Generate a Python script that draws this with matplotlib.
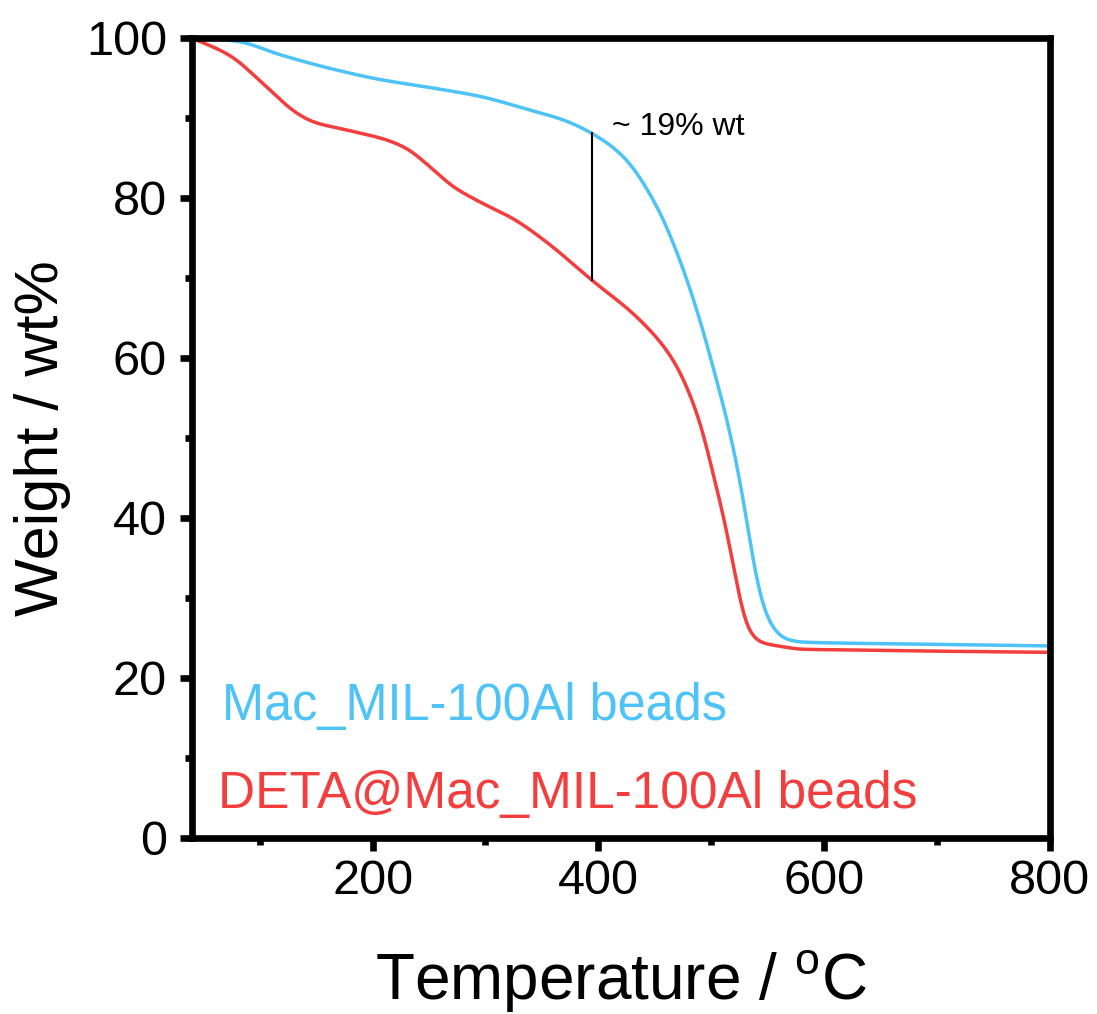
import matplotlib
matplotlib.use("Agg")
import matplotlib.pyplot as plt
import numpy as np

plt.rcParams['font.family'] = ['Liberation Sans', 'DejaVu Sans']

# Mac_MIL-100Al beads (blue)
blue_T = [40, 79.6, 118, 162, 206.5, 250.8, 295, 339, 369, 394, 422, 451.6, 472.2,
          490, 504.7, 513.6, 525.4, 532.8, 540.2, 549, 563.8, 578.5, 600, 700, 800]
blue_W = [100, 99.6, 97.9, 96.2, 94.8, 93.8, 92.7, 91.0, 89.75, 88.1, 85.2, 79.0, 72.25,
          64.75, 57.25, 52.5, 44.75, 38.5, 32.25, 27.7, 25.0, 24.5, 24.4, 24.2, 24.0]

# DETA@Mac_MIL-100Al beads (red)
red_T = [40, 73.7, 103, 132.7, 147.4, 177, 212.5, 230, 250.8, 271.5, 295, 324.6, 354,
         394, 436.8, 466.3, 490, 501.7, 513.6, 522.4, 531.3, 543, 563.8, 578.5,
         622.8, 700, 800]
red_W = [100, 97.8, 94.3, 90.6, 89.5, 88.5, 87.25, 86.2, 83.9, 81.4, 79.5, 77.4, 74.5,
         69.75, 64.75, 59.75, 52.0, 45.5, 38.5, 32.0, 26.4, 24.5, 23.9, 23.6,
         23.5, 23.35, 23.2]

annot_T = 394
annot_top = 88.1
annot_bot = 69.75

x_ticks = [200, 400, 600, 800]
y_ticks = [0, 20, 40, 60, 80, 100]

blue = '#4dc3f7'
red = '#f43e3e'

fig = plt.figure(figsize=(10.97, 10.14), dpi=100)
ax = fig.add_axes([0.175, 0.1736, 0.782, 0.789])

def smooth(xs, ys, win=9.0):
    xs = np.asarray(xs, float); ys = np.asarray(ys, float)
    xx = np.linspace(xs[0], xs[-1], 3041)
    h = np.diff(xs); d = np.diff(ys) / h
    m = np.zeros_like(ys)
    for k in range(1, len(xs) - 1):
        if d[k-1] * d[k] <= 0:
            m[k] = 0
        else:
            w1 = 2*h[k] + h[k-1]; w2 = h[k] + 2*h[k-1]
            m[k] = (w1 + w2) / (w1/d[k-1] + w2/d[k])
    m[0] = d[0]; m[-1] = d[-1]
    idx = np.clip(np.searchsorted(xs, xx) - 1, 0, len(xs) - 2)
    t = (xx - xs[idx]) / h[idx]
    h00 = 2*t**3 - 3*t**2 + 1; h10 = t**3 - 2*t**2 + t
    h01 = -2*t**3 + 3*t**2; h11 = t**3 - t**2
    yy = h00*ys[idx] + h10*h[idx]*m[idx] + h01*ys[idx+1] + h11*h[idx]*m[idx+1]
    # light gaussian smoothing to remove kinks
    dx = xx[1] - xx[0]
    n = int(3 * win / dx)
    k = np.exp(-0.5 * (np.arange(-n, n + 1) * dx / (win / 2)) ** 2)
    k /= k.sum()
    pad = np.concatenate([np.full(n, yy[0]), yy, np.full(n, yy[-1])])
    ys_s = np.convolve(pad, k, mode='valid')
    ys_s = np.minimum(ys_s, 100)
    return xx, ys_s

bx, by = smooth(blue_T, blue_W)
rx, ry = smooth(red_T, red_W)
ax.plot(bx, by, color=blue, lw=2.5, solid_capstyle='round')
ax.plot(rx, ry, color=red, lw=2.5, solid_capstyle='round')
ax.plot([annot_T, annot_T], [annot_bot, annot_top], color='black', lw=1.5)
ax.text(412, 88.9, '~ 19% wt', fontsize=23, ha='left', va='center')

ax.text(66.6, 14.75, 'Mac_MIL-100Al beads', color=blue, fontsize=36.4, va='baseline')
ax.text(63, 3.75, 'DETA@Mac_MIL-100Al beads', color=red, fontsize=37, va='baseline')

ax.set_xlim(40, 800)
ax.set_ylim(0, 100)
ax.set_xticks(x_ticks)
ax.set_yticks(y_ticks)
ax.set_xticks([100, 300, 500, 700], minor=True)
ax.set_yticks([10, 30, 50, 70, 90], minor=True)
for s in ax.spines.values():
    s.set_linewidth(4.8)
ax.tick_params(which='major', direction='out', length=9, width=4.8, labelsize=35)
ax.tick_params(axis='x', which='major', pad=6)
ax.tick_params(axis='y', which='major', pad=9)
ax.tick_params(which='minor', direction='out', length=5, width=4.8)
ax.set_xlabel('Temperature / $^{\\mathregular{o}}$C', fontsize=46, labelpad=32)
ax.set_ylabel('Weight / wt%', fontsize=44, labelpad=11)

fig.savefig('out.png', dpi=100)
